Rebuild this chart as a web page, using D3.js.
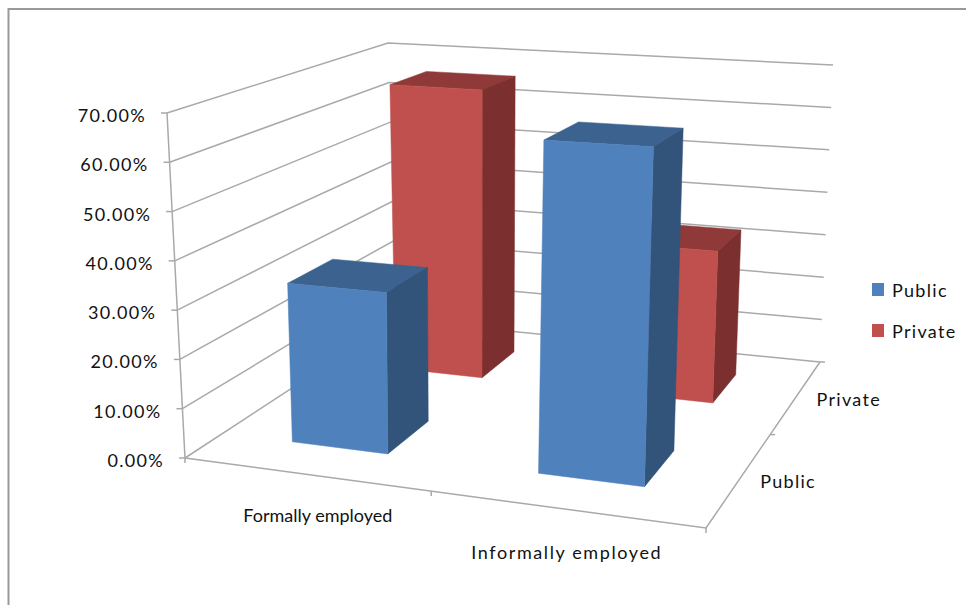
<!DOCTYPE html>
<html><head><meta charset="utf-8">
<script src="https://cdn.jsdelivr.net/npm/d3@7"></script>
<style>html,body{margin:0;padding:0;background:#fff}svg{display:block}text{font-family:Lato,sans-serif;font-size:18px;fill:#111}</style>
</head><body><svg id="c" width="966" height="605"></svg>
<script>
const categories = ["Formally employed", "Informally employed"];
const seriesNames = ["Public", "Private"];
const publicValues = [32.9, 66];
const privateValues = [66, 33.4];
const yTicks = [0, 10, 20, 30, 40, 50, 60, 70];
const frontColors = {Public:"#4F81BD", Private:"#C0504D"};
const topColors = {Public:"#3C628F", Private:"#8F3A38"};
const sideColors = {Public:"#32537A", Private:"#7B2F2E"};

// Perspective of the 3D box (screen corners of the floor and of the 70% plane)
const floorQuad = [[185,458],[706,528],[820,362],[396,320]];
const topQuad = [[167,113],[717,146],[833,65],[388,43]];
function homography(q){
  const [[x0,y0],[x1,y1],[x2,y2],[x3,y3]] = q;
  const dx1=x1-x2, dx2=x3-x2, sx=x0-x1+x2-x3, dy1=y1-y2, dy2=y3-y2, sy=y0-y1+y2-y3;
  const den=dx1*dy2-dx2*dy1;
  const g=(sx*dy2-dx2*sy)/den, h=(dx1*sy-sx*dy1)/den;
  const a=x1-x0+g*x1, b=x3-x0+h*x3, d=y1-y0+g*y1, e=y3-y0+h*y3;
  return (u,w)=>{const k=g*u+h*w+1; return [(a*u+b*w+x0)/k,(d*u+e*w+y0)/k];};
}
const hFloor=homography(floorQuad), hTop=homography(topQuad);
const yScale=d3.scaleLinear().domain([0,70]).range([0,1]);
const xBand=d3.scaleBand().domain(categories).range([0,1]).paddingInner(0.6).paddingOuter(0.3);
const zBand=d3.scaleBand().domain(seriesNames).range([0,1]).paddingInner(0.6).paddingOuter(0.3);
function P(u,w,val){const v=yScale(val),a=hFloor(u,w),b=hTop(u,w);return [a[0]+(b[0]-a[0])*v,a[1]+(b[1]-a[1])*v];}
const line=d3.line();
const svg=d3.select("#c");

// outer frame (left and top edges)
svg.append("path").attr("d",line([[8.5,605],[8.5,9],[966,9]]))
  .attr("fill","none").attr("stroke","#999").attr("stroke-width",2);

const gridCol="#a9a9a9";
const grid=svg.append("g").attr("fill","none").attr("stroke",gridCol).attr("stroke-width",1.5);
yTicks.forEach(t=>{
  grid.append("path").attr("d",line([P(0,0,t),P(0,1,t),P(1,1,t)]));
  const p=P(0,0,t);
  grid.append("path").attr("d",line([[p[0]-6,p[1]],p]));
});
grid.append("path").attr("d",line([P(0,0,0),P(0,0,70)]));
grid.append("path").attr("d",line([P(0,0,0),P(1,0,0),P(1,1,0)]));
[0,0.5,1].forEach(u=>{const p=P(u,0,0);grid.append("path").attr("d",line([p,[p[0],p[1]+5]]));});
[0.5,1].forEach(w=>{const p=P(1,w,0);grid.append("path").attr("d",line([p,[p[0]+5,p[1]]]));});

// y labels
svg.append("g").selectAll("text").data(yTicks).join("text")
  .attr("text-anchor","end").attr("letter-spacing","1.3px")
  .attr("x",d=>P(0,0,d)[0]-21).attr("y",d=>P(0,0,d)[1]+9)
  .text(d=>d3.format(".2f")(d)+"%");

// bars, back row first
const rows=[{s:"Private",vals:privateValues},{s:"Public",vals:publicValues}];
rows.forEach(r=>{
  const w0=zBand(r.s), w1=w0+zBand.bandwidth();
  categories.forEach((c,i)=>{
    const u0=xBand(c), u1=u0+xBand.bandwidth(), v=r.vals[i];
    const g=svg.append("g");
    const face=(pts,col)=>g.append("path").attr("d",line(pts)+"Z").attr("fill",col).attr("stroke",col).attr("stroke-width",.5);
    face([P(u0,w0,v),P(u1,w0,v),P(u1,w1,v),P(u0,w1,v)],topColors[r.s]);
    face([P(u1,w0,0),P(u1,w1,0),P(u1,w1,v),P(u1,w0,v)],sideColors[r.s]);
    face([P(u0,w0,0),P(u1,w0,0),P(u1,w0,v),P(u0,w0,v)],frontColors[r.s]);
  });
});

// category labels
const catDx=[13,2], catDy=[48,50], catSpacing=[0,1.6];
svg.append("g").selectAll("text").data(categories).join("text")
  .attr("text-anchor","middle")
  .attr("letter-spacing",(d,i)=>catSpacing[i]+"px")
  .attr("x",(d,i)=>P(xBand(d)+xBand.bandwidth()/2,0,0)[0]+catDx[i])
  .attr("y",(d,i)=>P(xBand(d)+xBand.bandwidth()/2,0,0)[1]+catDy[i])
  .text(d=>d);
// series labels
svg.append("g").selectAll("text").data(seriesNames).join("text")
  .attr("letter-spacing","1.3px")
  .attr("x",d=>P(1,zBand(d)+zBand.bandwidth()/2,0)[0]+20)
  .attr("y",d=>P(1,zBand(d)+zBand.bandwidth()/2,0)[1]+10)
  .text(d=>d);
// legend
const lg=svg.append("g").selectAll("g").data(seriesNames).join("g")
  .attr("transform",(d,i)=>`translate(872,${283+i*41})`);
lg.append("rect").attr("width",12).attr("height",13).attr("fill",d=>frontColors[d]);
lg.append("text").attr("x",20).attr("y",14).attr("letter-spacing","1.3px").text(d=>d);
</script></body></html>
